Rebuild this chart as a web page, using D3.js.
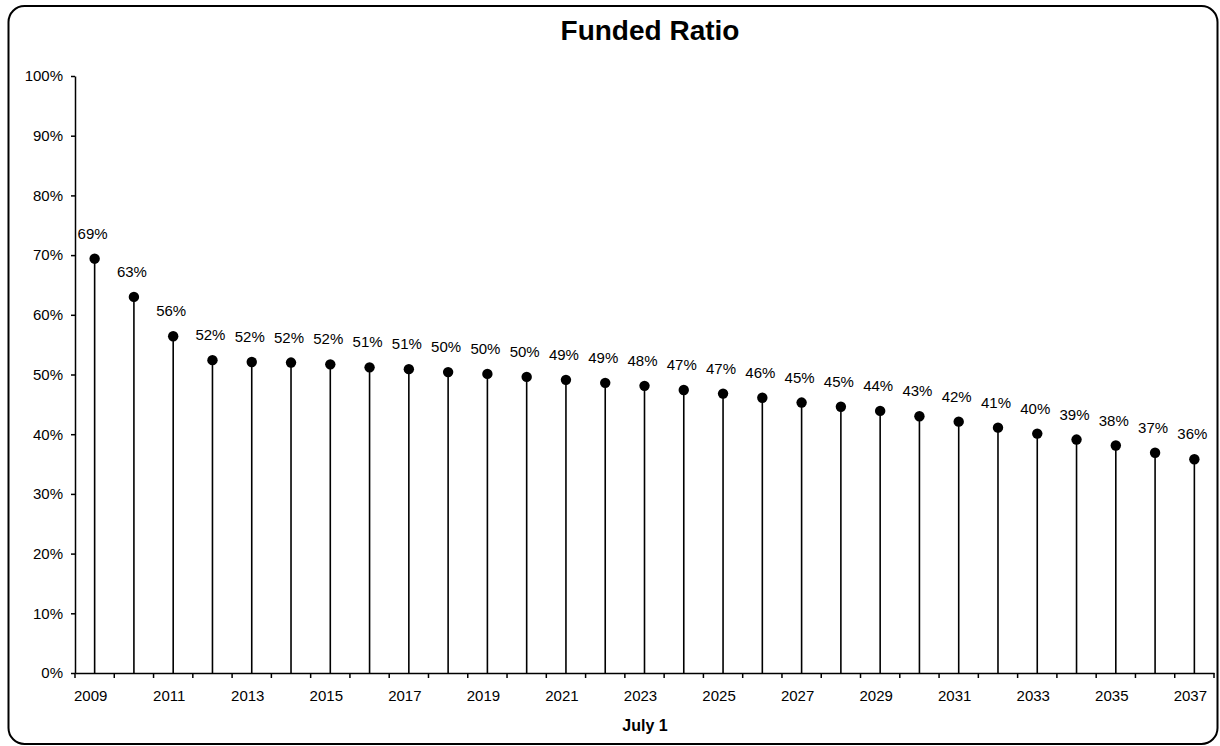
<!DOCTYPE html>
<html>
<head>
<meta charset="utf-8">
<script src="https://cdn.jsdelivr.net/npm/d3@7"></script>
<style>
  html, body { margin: 0; padding: 0; background: #fff; }
  svg { display: block; }
  text { font-family: Arial, "Liberation Sans", sans-serif; fill: #000; }
</style>
</head>
<body>
<svg id="chart" width="1220" height="746"></svg>
<script>
const years = [2009,2010,2011,2012,2013,2014,2015,2016,2017,2018,2019,2020,2021,2022,2023,2024,2025,2026,2027,2028,2029,2030,2031,2032,2033,2034,2035,2036,2037];
const fundedRatio = [0.694,0.630,0.564,0.524,0.521,0.520,0.517,0.512,0.509,0.504,0.501,0.496,0.491,0.486,0.481,0.474,0.468,0.461,0.453,0.446,0.439,0.430,0.421,0.411,0.401,0.391,0.381,0.369,0.358];
const yTicks = [0,0.1,0.2,0.3,0.4,0.5,0.6,0.7,0.8,0.9,1.0];
const xTickLabels = [2009,2011,2013,2015,2017,2019,2021,2023,2025,2027,2029,2031,2033,2035,2037];
const title = "Funded Ratio";
const xTitle = "July 1";

const svg = d3.select("#chart");
const plot = { left: 75, right: 1214, top: 76, bottom: 673 };
const FONT = "Arial, 'Liberation Sans', sans-serif";

// frame
svg.append("rect")
  .attr("x", 8.5).attr("y", 6).attr("width", 1209).attr("height", 738)
  .attr("rx", 16).attr("ry", 16)
  .attr("fill", "#fff").attr("stroke", "#000").attr("stroke-width", 2);

const x = d3.scaleBand().domain(years).range([plot.left, plot.right]).paddingInner(0).paddingOuter(0);
const y = d3.scaleLinear().domain([0, 1]).range([plot.bottom, plot.top]);

// title
svg.append("text")
  .attr("x", 650).attr("y", 40)
  .attr("text-anchor", "middle")
  .attr("font-size", 28).attr("font-weight", "bold")
  .text(title);

// y axis
const yAxis = svg.append("g")
  .attr("transform", `translate(${plot.left},0)`)
  .call(d3.axisLeft(y).tickValues(yTicks).tickFormat(d3.format(".0%")).tickSize(4).tickSizeOuter(0).tickPadding(8));
yAxis.select(".domain").attr("stroke", "#000").attr("stroke-width", 1.5);
yAxis.selectAll(".tick line").attr("stroke", "#000").attr("stroke-width", 1.5);
yAxis.selectAll(".tick text").attr("font-size", 15).attr("font-family", FONT).attr("fill", "#000");

// x axis (labels every other year, ticks at category boundaries)
const xAxis = svg.append("g")
  .attr("transform", `translate(0,${plot.bottom})`)
  .call(d3.axisBottom(x).tickValues(xTickLabels).tickSize(0).tickSizeOuter(0).tickPadding(17));
xAxis.select(".domain").attr("stroke", "#000").attr("stroke-width", 1.5);
xAxis.selectAll(".tick text").attr("font-size", 15).attr("font-family", FONT).attr("fill", "#000").attr("dx", -4);

const boundaries = years.map(d => x(d)).concat([x(years[years.length - 1]) + x.bandwidth()]);
svg.append("g").selectAll("line").data(boundaries).join("line")
  .attr("x1", d => d).attr("x2", d => d)
  .attr("y1", plot.bottom).attr("y2", plot.bottom + 5)
  .attr("stroke", "#000").attr("stroke-width", 1.5);

// x title
svg.append("text")
  .attr("x", 645).attr("y", 731)
  .attr("text-anchor", "middle")
  .attr("font-size", 16).attr("font-weight", "bold")
  .text(xTitle);

const data = years.map((yr, i) => ({ year: yr, value: fundedRatio[i] }));
const cx = d => x(d.year) + x.bandwidth() / 2;

// stems
svg.append("g").selectAll("line").data(data).join("line")
  .attr("x1", cx).attr("x2", cx)
  .attr("y1", d => y(d.value)).attr("y2", y(0))
  .attr("stroke", "#000").attr("stroke-width", 1.6);

// dots
svg.append("g").selectAll("circle").data(data).join("circle")
  .attr("cx", cx).attr("cy", d => y(d.value)).attr("r", 5.2)
  .attr("fill", "#000");

// data labels
svg.append("g").selectAll("text").data(data).join("text")
  .attr("x", d => cx(d) - 2).attr("y", d => y(d.value) - 20)
  .attr("text-anchor", "middle")
  .attr("font-size", 15)
  .text(d => d3.format(".0%")(d.value));
</script>
</body>
</html>
